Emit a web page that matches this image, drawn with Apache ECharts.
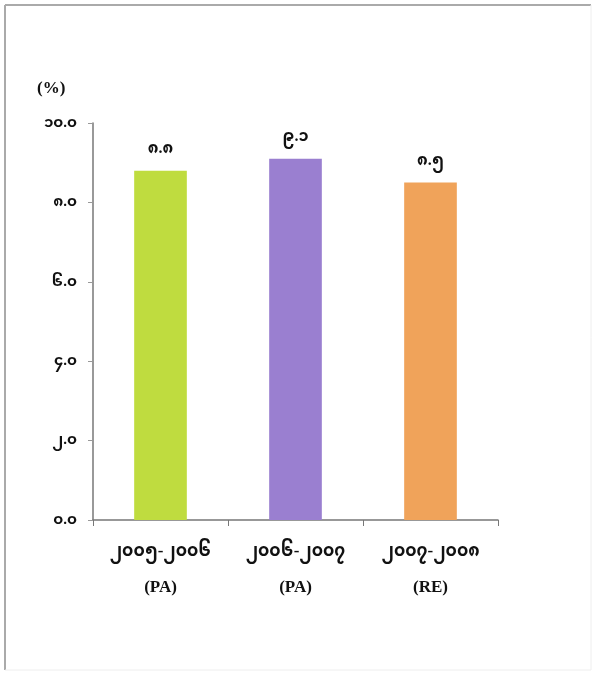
<!DOCTYPE html>
<html><head><meta charset="utf-8">
<script src="https://cdn.jsdelivr.net/npm/echarts@6/dist/echarts.min.js"></script>
<style>html,body{margin:0;padding:0;background:#fff}#c{width:596px;height:675px}</style>
</head><body><div id="c"></div>
<script>
const categories = ['၂၀၀၅-၂၀၀၆\n(PA)', '၂၀၀၆-၂၀၀၇\n(PA)', '၂၀၀၇-၂၀၀၈\n(RE)'];
const values = [8.8, 9.1, 8.5];
const valueLabels = ['၈.၈', '၉.၁', '၈.၅'];
const barColors = ['#bfdc3f', '#9a7fd0', '#f0a35a'];
const yTickLabels = {0: '၀.၀', 2: '၂.၀', 4: '၄.၀', 6: '၆.၀', 8: '၈.၀', 10: '၁၀.၀'};
const unitLabel = '(%)';

const font = '"Liberation Serif","Noto Sans Myanmar","Padauk",serif';
const chart = echarts.init(document.getElementById('c'));
chart.setOption({
  backgroundColor: '#fff',
  animation: false,
  graphic: [
    {type: 'line', shape: {x1: 5, y1: 5, x2: 591, y2: 5}, style: {stroke: '#aaa', lineWidth: 2}, silent: true},
    {type: 'line', shape: {x1: 5, y1: 5, x2: 5, y2: 670}, style: {stroke: '#aaa', lineWidth: 2}, silent: true},
    {type: 'line', shape: {x1: 591, y1: 5, x2: 591, y2: 670}, style: {stroke: '#eee', lineWidth: 1}, silent: true},
    {type: 'line', shape: {x1: 5, y1: 670, x2: 591, y2: 670}, style: {stroke: '#eee', lineWidth: 1}, silent: true},
    {type: 'text', left: 37, top: 80, style: {text: unitLabel, font: 'bold 17px ' + font, fill: '#111'}}
  ],
  grid: {left: 93, right: 98, top: 123, bottom: 155},
  xAxis: {
    type: 'category', data: categories,
    axisLine: {lineStyle: {color: '#777', width: 1.5}},
    axisTick: {show: true, length: 6, lineStyle: {color: '#777'}},
    axisLabel: {color: '#111', fontWeight: 'bold', fontSize: 17, fontFamily: font, margin: 14, lineHeight: 36}
  },
  yAxis: {
    type: 'value', min: 0, max: 10, interval: 2,
    splitLine: {show: false},
    axisLine: {show: true, lineStyle: {color: '#777', width: 1.5}},
    axisTick: {show: true, length: 5, lineStyle: {color: '#999'}},
    axisLabel: {color: '#111', fontWeight: 'bold', fontSize: 15, fontFamily: font, margin: 16,
      formatter: v => yTickLabels[v] !== undefined ? yTickLabels[v] : ''}
  },
  series: [{
    type: 'bar', barWidth: '39%',
    data: values.map((v, i) => ({value: v, itemStyle: {color: barColors[i]}})),
    label: {show: true, position: 'top', distance: 14, color: '#111', fontWeight: 'bold', fontSize: 16, fontFamily: font,
      formatter: p => valueLabels[p.dataIndex]}
  }]
});
</script></body></html>
